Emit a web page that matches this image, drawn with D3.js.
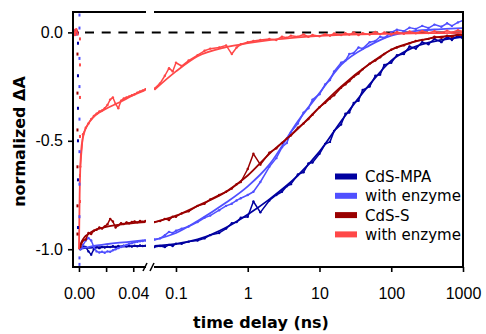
<!DOCTYPE html>
<html>
<head>
<meta charset="utf-8">
<script src="https://cdn.jsdelivr.net/npm/d3@7"></script>
<style>
  body { margin: 0; background: #fff; }
  svg { font-family: "DejaVu Sans", sans-serif; }
  .axis text { font-size: 16px; fill: #000; }
  .axis line { stroke: #000; stroke-width: 1.6px; }
  .frame { stroke: #000; stroke-width: 2px; fill: none; }
</style>
</head>
<body>
<svg id="chart" width="486" height="334"></svg>
<script>
// ---- data (time in ns, normalized dA) ----
var seriesNames = ["CdS-MPA", "with enzyme", "CdS-S", "with enzyme"];
var seriesColors = ["#0000a0", "#5050ff", "#9a0000", "#ff4848"];

// fast window, linear axis
var fastT = [-0.004, -0.003, -0.002, -0.001, 0, 0.001, 0.003, 0.005, 0.007, 0.009, 0.011, 0.013, 0.015,
  0.017, 0.019, 0.021, 0.023, 0.025, 0.027, 0.029, 0.031, 0.033, 0.035, 0.037, 0.039, 0.041, 0.043, 0.045, 0.047, 0.049];
var mpaFast = [0.01, -0.01, 0.005, -0.005, null, -1.0, -0.985, -0.99, -1.01, -1.025, -1.0, -0.99, -0.995,
  -0.99, -0.992, -0.988, -0.99, -0.986, -0.99, -0.985, -0.988, -0.984, -0.987, -0.985, -0.988, -0.984, -0.986, -0.983, -0.985, -0.984];
var mpaEnzFast = [0.0, 0.01, -0.01, 0.0, null, -1.0, -0.98, -0.96, -0.948, -0.96, -0.99, -1.01, -1.015,
  -1.012, -1.016, -1.01, -1.012, -1.005, -1.0, -0.995, -0.99, -0.985, -0.98, -0.975, -0.972, -0.968, -0.966, -0.963, -0.962, -0.96];
var sFast = [0.005, -0.005, 0.01, 0.0, null, -0.99, -0.96, -0.955, -0.925, -0.93, -0.915, -0.91, -0.9,
  -0.905, -0.895, -0.885, -0.86, -0.872, -0.9, -0.89, -0.88, -0.884, -0.876, -0.88, -0.874, -0.872, -0.876, -0.87, -0.873, -0.87];
var sEnzFast = [0.012, -0.012, 0.015, -0.01, null, -0.62, -0.47, -0.44, -0.42, -0.40, -0.385, -0.375, -0.365,
  -0.36, -0.35, -0.335, -0.31, -0.30, -0.33, -0.35, -0.315, -0.305, -0.3, -0.295, -0.29, -0.285, -0.278, -0.272, -0.268, -0.262];

// points recorded during the rise at t = 0
var riseT = 0;
var mpaRise = [-0.05, -0.2, -0.35, -0.5, -0.68, -0.9];
var mpaEnzRise = [0.08, 0.02, -0.12, -0.25, -0.4, -0.55, -0.7, -0.85, -1.04, -1.07];
var sRise = [-0.1, -0.28, -0.45, -0.62, -0.8, -0.93];
var sEnzRise = [-0.03, -0.15, -0.3, -0.48, -0.66, -0.78];

// slow window, log axis
var slowT = [0.05, 0.06, 0.07, 0.08, 0.09, 0.1, 0.12, 0.15, 0.2, 0.25, 0.3, 0.4, 0.5, 0.6, 0.7, 0.8,
  1, 1.2, 1.5, 2, 2.5, 3, 3.5, 4, 5, 6, 7, 8, 10, 12, 14, 16, 20, 23, 26, 30, 35, 40, 50, 60, 70, 80,
  100, 120, 150, 180, 220, 270, 330, 400, 500, 600, 700, 850, 1000];
var mpaSlow = [-0.99, -0.985, -0.99, -0.98, -0.985, -0.975, -0.975, -0.965, -0.96, -0.95, -0.935, -0.925, -0.905, -0.88, -0.875, -0.855,
  -0.85, -0.78, -0.83, -0.775, -0.75, -0.735, -0.71, -0.70, -0.655, -0.645, -0.605, -0.6, -0.56, -0.515, -0.505, -0.455, -0.425, -0.375, -0.37, -0.325, -0.315, -0.265, -0.25, -0.2, -0.195, -0.15,
  -0.14, -0.105, -0.1, -0.065, -0.075, -0.045, -0.055, -0.03, -0.045, -0.02, -0.035, -0.015, -0.03];
var mpaEnzSlow = [-0.955, -0.95, -0.935, -0.92, -0.925, -0.915, -0.905, -0.895, -0.875, -0.855, -0.845, -0.82, -0.8, -0.79, -0.775, -0.765,
  -0.75, -0.735, -0.69, -0.62, -0.58, -0.53, -0.51, -0.46, -0.42, -0.37, -0.35, -0.31, -0.285, -0.24, -0.22, -0.18, -0.14, -0.13, -0.1, -0.095, -0.07, -0.075, -0.045, -0.04, -0.02, -0.025,
  0.0, 0.012, 0.006, 0.022, 0.016, 0.03, 0.02, 0.036, 0.026, 0.042, 0.03, 0.046, 0.055];
var sSlow = [-0.875, -0.87, -0.86, -0.865, -0.85, -0.85, -0.835, -0.825, -0.8, -0.79, -0.77, -0.75, -0.735, -0.72, -0.70, -0.69,
  -0.63, -0.56, -0.61, -0.555, -0.535, -0.51, -0.49, -0.475, -0.44, -0.42, -0.4, -0.38, -0.345, -0.325, -0.305, -0.29, -0.255, -0.24, -0.225, -0.205, -0.19, -0.17, -0.145, -0.13, -0.115, -0.1,
  -0.08, -0.07, -0.06, -0.05, -0.04, -0.035, -0.03, -0.02, -0.025, -0.015, -0.02, -0.01, -0.015];
var sEnzSlow = [-0.26, -0.235, -0.2, -0.165, -0.18, -0.14, -0.155, -0.13, -0.105, -0.085, -0.075, -0.07, -0.06, -0.1, -0.07, -0.055,
  -0.045, -0.04, -0.035, -0.03, -0.035, -0.02, -0.025, -0.015, -0.02, -0.01, -0.02, -0.012, -0.018, -0.008, -0.015, -0.005, -0.012, -0.004, -0.01, 0.0, -0.012, -0.004, -0.01, 0.002, -0.008, 0.0,
  -0.01, 0.002, -0.006, 0.004, -0.004, 0.006, -0.003, 0.005, -0.002, 0.008, 0.0, 0.01, 0.004];

// fitted curves
var fitFastT = [0, 0.0005, 0.001, 0.002, 0.004, 0.007, 0.01, 0.015, 0.02, 0.03, 0.04, 0.049];
var mpaFitFast = [-1.0, -0.999, -0.998, -0.997, -0.995, -0.994, -0.993, -0.991, -0.99, -0.988, -0.986, -0.985];
var mpaEnzFitFast = [-1.0, -0.999, -0.998, -0.996, -0.993, -0.99, -0.986, -0.981, -0.977, -0.97, -0.964, -0.958];
var sFitFast = [-1.0, -0.99, -0.98, -0.965, -0.945, -0.93, -0.917, -0.905, -0.897, -0.887, -0.88, -0.875];
var sEnzFitFast = [-1.0, -0.75, -0.62, -0.52, -0.46, -0.42, -0.395, -0.37, -0.352, -0.322, -0.29, -0.265];

var fitSlowT = [0.05, 0.1, 0.2, 0.5, 1, 2, 5, 10, 20, 50, 100, 200, 500, 1000];
var mpaFitSlow = [-0.985, -0.975, -0.955, -0.9, -0.84, -0.77, -0.66, -0.55, -0.41, -0.24, -0.13, -0.07, -0.035, -0.02];
var mpaEnzFitSlow = [-0.957, -0.925, -0.87, -0.785, -0.71, -0.61, -0.41, -0.28, -0.15, -0.06, -0.015, 0.005, 0.015, 0.02];
var sFitSlow = [-0.875, -0.845, -0.8, -0.735, -0.66, -0.56, -0.445, -0.345, -0.25, -0.145, -0.08, -0.045, -0.02, -0.01];
var sEnzFitSlow = [-0.265, -0.18, -0.11, -0.068, -0.05, -0.036, -0.023, -0.016, -0.011, -0.008, -0.006, -0.004, -0.003, -0.002];

var fastTicks = [0, 0.02, 0.04];
var fastLabels = ["0.00", "", "0.04"];
var slowTicks = [0.1, 1, 10, 100, 1000];
var slowLabels = ["0.1", "1", "10", "100", "1000"];
var yTicks = [0, -0.5, -1.0];
var yLabels = ["0.0", "-0.5", "-1.0"];

// ---- chart ----
var svg = d3.select("#chart"),
    plotTop = 12, plotBottom = 267, plotLeft = 73, plotRight = 463;

var xFast = d3.scaleLinear().domain([-0.0044, 0.0494]).range([plotLeft, 146]);
var xSlow = d3.scaleLog().domain([0.0494, 1000]).range([154, plotRight]);
var y = d3.scaleLinear().domain([-1.082, 0.094]).range([plotBottom, plotTop]);

var defs = svg.append("defs");
defs.append("clipPath").attr("id", "clipFast").append("rect")
    .attr("x", plotLeft).attr("y", plotTop)
    .attr("width", xFast.range()[1] - plotLeft).attr("height", plotBottom - plotTop);
defs.append("clipPath").attr("id", "clipSlow").append("rect")
    .attr("x", xSlow.range()[0]).attr("y", plotTop)
    .attr("width", plotRight - xSlow.range()[0]).attr("height", plotBottom - plotTop);

// zero line
svg.append("line")
    .attr("x1", plotLeft).attr("x2", plotRight)
    .attr("y1", y(0)).attr("y2", y(0))
    .attr("stroke", "#000").attr("stroke-width", 2)
    .attr("stroke-dasharray", "9,7.7").attr("stroke-dashoffset", 4.7);

var gFast = svg.append("g").attr("clip-path", "url(#clipFast)");
var gSlow = svg.append("g").attr("clip-path", "url(#clipSlow)");

function addLine(g, x, times, vals, color) {
  var pts = d3.zip(times, vals);
  var line = d3.line()
      .defined(function(d) { return d[1] !== null; })
      .x(function(d) { return x(d[0]); })
      .y(function(d) { return y(d[1]); });
  g.append("path")
      .datum(pts)
      .attr("d", line)
      .attr("fill", "none")
      .attr("stroke", color)
      .attr("stroke-width", 1.5)
      .attr("stroke-linejoin", "round");
  g.append("g").selectAll("circle")
      .data(pts.filter(function(d) { return d[1] !== null; }))
      .enter().append("circle")
        .attr("cx", function(d) { return x(d[0]); })
        .attr("cy", function(d) { return y(d[1]); })
        .attr("r", 1.2)
        .attr("fill", color);
}

function addFit(g, x, times, vals, color) {
  var line = d3.line()
      .x(function(d) { return x(d[0]); })
      .y(function(d) { return y(d[1]); })
      .curve(d3.curveMonotoneX);
  g.append("path")
      .datum(d3.zip(times, vals))
      .attr("d", line)
      .attr("fill", "none")
      .attr("stroke", color)
      .attr("stroke-width", 1.8);
}

var fastData = [mpaFast, mpaEnzFast, sFast, sEnzFast];
var slowData = [mpaSlow, mpaEnzSlow, sSlow, sEnzSlow];
var fitFast = [mpaFitFast, mpaEnzFitFast, sFitFast, sEnzFitFast];
var fitSlow = [mpaFitSlow, mpaEnzFitSlow, sFitSlow, sEnzFitSlow];
var rises = [mpaRise, mpaEnzRise, sRise, sEnzRise];
var riseShift = [-1, 0.5, -1.5, 1];

seriesColors.forEach(function(c, i) {
  addLine(gFast, xFast, fastT, fastData[i], c);
  addLine(gSlow, xSlow, slowT, slowData[i], c);
  addFit(gFast, xFast, fitFastT, fitFast[i], c);
  addFit(gSlow, xSlow, fitSlowT, fitSlow[i], c);
  svg.append("g").selectAll("rect")
      .data(rises[i])
      .enter().append("rect")
        .attr("x", xFast(riseT) + riseShift[i] - 1)
        .attr("y", function(d) { return y(d) - 1.5; })
        .attr("width", 2)
        .attr("height", 3)
        .attr("fill", c);
});

// axes
svg.append("g")
    .attr("class", "axis")
    .attr("transform", "translate(" + plotLeft + ",0)")
    .call(d3.axisLeft(y).tickValues(yTicks).tickSize(5).tickPadding(5)
      .tickFormat(function(d, i) { return yLabels[i]; }))
    .call(function(g) { g.select(".domain").remove(); });

svg.append("g")
    .attr("class", "axis")
    .attr("transform", "translate(0," + plotBottom + ")")
    .call(d3.axisBottom(xFast).tickValues(fastTicks).tickSize(5).tickPadding(16)
      .tickFormat(function(d, i) { return fastLabels[i]; }))
    .call(function(g) { g.select(".domain").remove(); });

svg.append("g")
    .attr("class", "axis")
    .attr("transform", "translate(0," + plotBottom + ")")
    .call(d3.axisBottom(xSlow).tickValues(slowTicks).tickSize(5).tickPadding(16)
      .tickFormat(function(d, i) { return slowLabels[i]; }))
    .call(function(g) { g.select(".domain").remove(); });

// frame with axis break
var bx0 = xFast.range()[1], bx1 = xSlow.range()[0];
var frame = svg.append("g").attr("class", "frame");
frame.append("line").attr("x1", plotLeft).attr("x2", plotLeft).attr("y1", plotTop - 1).attr("y2", plotBottom + 1);
frame.append("line").attr("x1", plotRight).attr("x2", plotRight).attr("y1", plotTop - 1).attr("y2", plotBottom + 1);
frame.append("line").attr("x1", plotLeft).attr("x2", bx0).attr("y1", plotTop).attr("y2", plotTop);
frame.append("line").attr("x1", bx1).attr("x2", plotRight).attr("y1", plotTop).attr("y2", plotTop);
frame.append("line").attr("x1", plotLeft).attr("x2", bx0).attr("y1", plotBottom).attr("y2", plotBottom);
frame.append("line").attr("x1", bx1).attr("x2", plotRight).attr("y1", plotBottom).attr("y2", plotBottom);
[bx0 - 1, bx1 - 2].forEach(function(bx) {
  frame.append("line")
      .attr("x1", bx - 2).attr("y1", plotBottom + 4)
      .attr("x2", bx + 2).attr("y2", plotBottom - 4)
      .attr("stroke-width", 1.5);
});

// axis titles
svg.append("text")
    .attr("transform", "translate(25," + ((plotTop + plotBottom) / 2 + 2) + ") rotate(-90)")
    .attr("text-anchor", "middle")
    .attr("font-size", 16)
    .attr("font-weight", "bold")
    .text("normalized \u0394A");

svg.append("text")
    .attr("x", 261)
    .attr("y", 328)
    .attr("text-anchor", "middle")
    .attr("font-size", 16)
    .attr("font-weight", "bold")
    .text("time delay (ns)");

// legend
var legend = svg.append("g")
  .selectAll("g")
  .data(seriesNames)
  .enter().append("g")
    .attr("transform", function(d, i) { return "translate(335," + (176.5 + i * 19.3) + ")"; });

legend.append("rect")
    .attr("x", 0)
    .attr("y", -3)
    .attr("width", 22)
    .attr("height", 6)
    .attr("fill", function(d, i) { return seriesColors[i]; });

legend.append("text")
    .attr("x", 30)
    .attr("y", 5.5)
    .attr("font-size", 15)
    .text(function(d) { return d; });
</script>
</body>
</html>
